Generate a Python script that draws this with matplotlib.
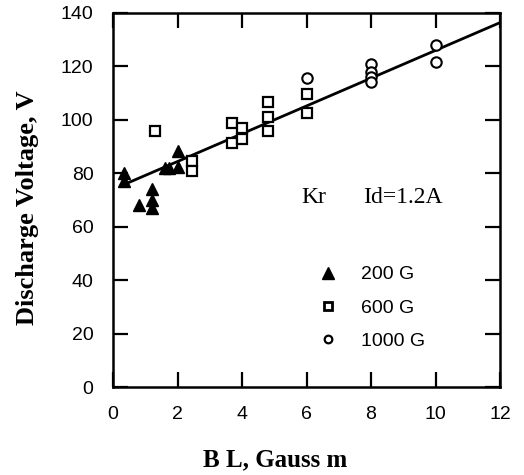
import numpy as np
import matplotlib
matplotlib.use("Agg")
import matplotlib.pyplot as plt
from matplotlib.lines import Line2D

# data
tri_x = [0.35, 0.35, 0.8, 1.2, 1.2, 1.2, 1.6, 1.75, 2.0, 2.0]
tri_y = [80, 77, 68, 74, 70, 67, 82, 82, 82.5, 88.5]

sq_x = [1.3, 2.45, 2.45, 3.7, 3.7, 4.0, 4.0, 4.8, 4.8, 4.8, 6.0, 6.0]
sq_y = [96, 84.5, 81, 99, 91.5, 97, 93, 106.5, 101, 96, 109.5, 102.5]

circ_x = [6.0, 8.0, 8.0, 8.0, 8.0, 10.0, 10.0]
circ_y = [115.5, 121, 118, 116, 114, 128, 121.5]

fit_intercept = 74.0
fit_slope = 5.2
fit_range = [0.4, 12.0]

x_ticks = [0, 2, 4, 6, 8, 10, 12]
y_ticks = [0, 20, 40, 60, 80, 100, 120, 140]
legend_labels = ["200 G", "600 G", "1000 G"]

sans = "Liberation Sans"
serif = "Liberation Serif"

fig = plt.figure(figsize=(5.24, 4.75), dpi=100)
ax = fig.add_axes([113 / 524, (475 - 387) / 475, 387 / 524, 374 / 475])

# fitted line
xf = np.array(fit_range)
ax.plot(xf, fit_intercept + fit_slope * xf, color="black", lw=2.0, zorder=2)

ax.plot(tri_x, tri_y, ls="none", marker="^", ms=9, color="black", zorder=3)
ax.plot(sq_x, sq_y, ls="none", marker="s", ms=7.5, mfc="white", mec="black",
        mew=1.6, zorder=3)
ax.plot(circ_x, circ_y, ls="none", marker="o", ms=7.5, mfc="white", mec="black",
        mew=1.5, zorder=3)

ax.set_xlim(0, 12)
ax.set_ylim(0, 140)
ax.set_xticks(x_ticks)
ax.set_yticks(y_ticks)
ax.tick_params(direction="in", length=11, width=1.6, top=True, right=True,
               labelsize=14, colors="black")
ax.tick_params(axis="y", pad=14)
ax.tick_params(axis="x", pad=14)
for lab in ax.get_xticklabels() + ax.get_yticklabels():
    lab.set_fontfamily(sans)
for sp in ax.spines.values():
    sp.set_linewidth(1.8)

ax.set_ylabel("Discharge Voltage, V", fontfamily=serif, fontweight="bold",
              fontsize=19)
ax.yaxis.set_label_coords(-0.19, 0.48)
ax.set_xlabel("B L, Gauss m", fontfamily=serif, fontweight="bold", fontsize=18)
ax.xaxis.set_label_coords(0.42, -0.165)

ax.text(5.85, 71, "Kr", fontfamily=serif, fontsize=17, va="center")
ax.text(7.75, 71, "Id=1.2A", fontfamily=serif, fontsize=17, va="center")

handles = [
    Line2D([], [], ls="none", marker="^", ms=8, color="black"),
    Line2D([], [], ls="none", marker="s", ms=6, mfc="white", mec="black", mew=2),
    Line2D([], [], ls="none", marker="o", ms=5.5, mfc="white", mec="black", mew=1.6),
]
ax.legend(handles, legend_labels, loc="upper left", bbox_to_anchor=(0.51, 0.345),
          frameon=False, prop={"family": sans, "size": 14}, handlelength=1.0,
          handletextpad=1.2, labelspacing=0.8, borderaxespad=0)

fig.savefig("out.png", dpi=100)
